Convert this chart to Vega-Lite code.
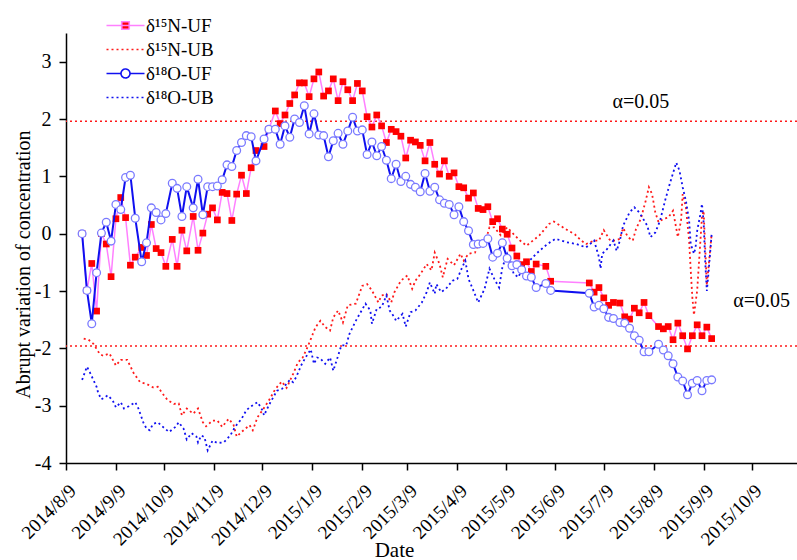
{
"$schema": "https://vega.github.io/schema/vega-lite/v6.json",
"width": 731, "height": 430,
"autosize": {"type": "none"},
"padding": {"left": 66, "top": 33, "right": 0, "bottom": 97},
"background": "white",
"config": {"view": {"stroke": null}, "font": "Liberation Serif"},
"datasets": {
"nuf": [{"date":"2014-08-19","value":0},{"date":"2014-08-22","value":-0.99},{"date":"2014-08-25","value":-0.52},{"date":"2014-08-28","value":-1.35},{"date":"2014-08-31","value":0.0},{"date":"2014-09-03","value":-0.18},{"date":"2014-09-06","value":-0.75},{"date":"2014-09-09","value":0.26},{"date":"2014-09-12","value":0.63},{"date":"2014-09-15","value":0.28},{"date":"2014-09-18","value":-0.55},{"date":"2014-09-21","value":-0.41},{"date":"2014-09-25","value":-0.24},{"date":"2014-09-28","value":-0.38},{"date":"2014-10-01","value":0.16},{"date":"2014-10-04","value":-0.26},{"date":"2014-10-07","value":-0.33},{"date":"2014-10-10","value":-0.57},{"date":"2014-10-14","value":-0.10},{"date":"2014-10-17","value":-0.57},{"date":"2014-10-20","value":0.06},{"date":"2014-10-23","value":-0.30},{"date":"2014-10-27","value":0.30},{"date":"2014-10-30","value":-0.29},{"date":"2014-11-02","value":0.01},{"date":"2014-11-05","value":0.34},{"date":"2014-11-08","value":0.45},{"date":"2014-11-11","value":0.24},{"date":"2014-11-14","value":0.72},{"date":"2014-11-17","value":0.70},{"date":"2014-11-20","value":0.23},{"date":"2014-11-23","value":0.69},{"date":"2014-11-26","value":1.02},{"date":"2014-11-29","value":0.70},{"date":"2014-12-02","value":1.15},{"date":"2014-12-05","value":1.45},{"date":"2014-12-10","value":1.52},{"date":"2014-12-13","value":1.82},{"date":"2014-12-17","value":2.14},{"date":"2014-12-20","value":1.92},{"date":"2014-12-23","value":2.07},{"date":"2014-12-26","value":2.27},{"date":"2014-12-29","value":2.42},{"date":"2015-01-01","value":2.63},{"date":"2015-01-04","value":2.63},{"date":"2015-01-07","value":2.39},{"date":"2015-01-10","value":2.70},{"date":"2015-01-13","value":2.82},{"date":"2015-01-16","value":2.40},{"date":"2015-01-19","value":2.49},{"date":"2015-01-22","value":2.70},{"date":"2015-01-25","value":2.32},{"date":"2015-01-28","value":2.65},{"date":"2015-01-31","value":2.51},{"date":"2015-02-03","value":2.32},{"date":"2015-02-06","value":2.62},{"date":"2015-02-09","value":2.49},{"date":"2015-02-12","value":2.04},{"date":"2015-02-15","value":1.86},{"date":"2015-02-18","value":2.07},{"date":"2015-02-21","value":1.88},{"date":"2015-02-24","value":1.59},{"date":"2015-02-27","value":1.82},{"date":"2015-03-02","value":1.78},{"date":"2015-03-05","value":1.70},{"date":"2015-03-08","value":1.32},{"date":"2015-03-11","value":1.63},{"date":"2015-03-14","value":1.60},{"date":"2015-03-17","value":1.54},{"date":"2015-03-20","value":1.27},{"date":"2015-03-23","value":1.59},{"date":"2015-03-26","value":1.21},{"date":"2015-03-29","value":1.04},{"date":"2015-04-01","value":1.27},{"date":"2015-04-04","value":1.00},{"date":"2015-04-07","value":1.06},{"date":"2015-04-10","value":0.82},{"date":"2015-04-13","value":0.80},{"date":"2015-04-16","value":0.62},{"date":"2015-04-19","value":0.71},{"date":"2015-04-22","value":0.44},{"date":"2015-04-25","value":0.42},{"date":"2015-04-28","value":0.47},{"date":"2015-05-01","value":0.21},{"date":"2015-05-04","value":0.26},{"date":"2015-05-07","value":0.08},{"date":"2015-05-10","value":-0.01},{"date":"2015-05-13","value":-0.25},{"date":"2015-05-16","value":-0.39},{"date":"2015-05-19","value":-0.54},{"date":"2015-05-22","value":-0.49},{"date":"2015-05-25","value":-0.66},{"date":"2015-05-28","value":-0.53},{"date":"2015-06-03","value":-0.57},{"date":"2015-06-06","value":-0.83},{"date":"2015-06-30","value":-0.86},{"date":"2015-07-03","value":-1.02},{"date":"2015-07-06","value":-0.94},{"date":"2015-07-09","value":-1.12},{"date":"2015-07-12","value":-1.25},{"date":"2015-07-15","value":-1.20},{"date":"2015-07-19","value":-1.21},{"date":"2015-07-22","value":-1.45},{"date":"2015-07-25","value":-1.49},{"date":"2015-07-28","value":-1.30},{"date":"2015-07-31","value":-1.38},{"date":"2015-08-03","value":-1.20},{"date":"2015-08-06","value":-1.43},{"date":"2015-08-12","value":-1.62},{"date":"2015-08-15","value":-1.66},{"date":"2015-08-18","value":-1.62},{"date":"2015-08-21","value":-1.85},{"date":"2015-08-24","value":-1.56},{"date":"2015-08-27","value":-1.78},{"date":"2015-08-30","value":-2.01},{"date":"2015-09-02","value":-1.78},{"date":"2015-09-05","value":-1.59},{"date":"2015-09-08","value":-1.78},{"date":"2015-09-11","value":-1.63},{"date":"2015-09-14","value":-1.83}],
"ouf": [{"date":"2014-08-19","value":0},{"date":"2014-08-22","value":-0.99},{"date":"2014-08-25","value":-1.57},{"date":"2014-08-28","value":-0.68},{"date":"2014-08-31","value":0.01},{"date":"2014-09-03","value":0.20},{"date":"2014-09-06","value":-0.13},{"date":"2014-09-09","value":0.51},{"date":"2014-09-12","value":0.42},{"date":"2014-09-15","value":0.98},{"date":"2014-09-18","value":1.02},{"date":"2014-09-21","value":0.27},{"date":"2014-09-25","value":-0.49},{"date":"2014-09-28","value":-0.16},{"date":"2014-10-01","value":0.45},{"date":"2014-10-04","value":0.37},{"date":"2014-10-07","value":0.24},{"date":"2014-10-10","value":0.35},{"date":"2014-10-14","value":0.88},{"date":"2014-10-17","value":0.79},{"date":"2014-10-20","value":0.30},{"date":"2014-10-23","value":0.82},{"date":"2014-10-27","value":0.45},{"date":"2014-10-30","value":0.95},{"date":"2014-11-02","value":0.33},{"date":"2014-11-05","value":0.82},{"date":"2014-11-08","value":0.82},{"date":"2014-11-11","value":0.83},{"date":"2014-11-14","value":0.94},{"date":"2014-11-17","value":1.20},{"date":"2014-11-20","value":1.17},{"date":"2014-11-23","value":1.45},{"date":"2014-11-26","value":1.59},{"date":"2014-11-29","value":1.71},{"date":"2014-12-02","value":1.69},{"date":"2014-12-05","value":1.27},{"date":"2014-12-10","value":1.65},{"date":"2014-12-13","value":1.82},{"date":"2014-12-17","value":1.82},{"date":"2014-12-20","value":1.56},{"date":"2014-12-23","value":1.88},{"date":"2014-12-26","value":1.68},{"date":"2014-12-29","value":2.00},{"date":"2015-01-01","value":1.94},{"date":"2015-01-04","value":2.23},{"date":"2015-01-07","value":1.74},{"date":"2015-01-10","value":2.09},{"date":"2015-01-13","value":1.72},{"date":"2015-01-16","value":1.71},{"date":"2015-01-19","value":1.34},{"date":"2015-01-22","value":1.62},{"date":"2015-01-25","value":1.75},{"date":"2015-01-28","value":1.56},{"date":"2015-01-31","value":1.79},{"date":"2015-02-03","value":2.03},{"date":"2015-02-06","value":1.79},{"date":"2015-02-09","value":1.81},{"date":"2015-02-12","value":1.38},{"date":"2015-02-15","value":1.60},{"date":"2015-02-18","value":1.36},{"date":"2015-02-21","value":1.52},{"date":"2015-02-24","value":1.28},{"date":"2015-02-27","value":0.96},{"date":"2015-03-02","value":1.21},{"date":"2015-03-05","value":0.91},{"date":"2015-03-08","value":1.00},{"date":"2015-03-11","value":0.86},{"date":"2015-03-14","value":0.81},{"date":"2015-03-17","value":0.73},{"date":"2015-03-20","value":1.05},{"date":"2015-03-23","value":0.74},{"date":"2015-03-26","value":0.81},{"date":"2015-03-29","value":0.59},{"date":"2015-04-01","value":0.53},{"date":"2015-04-04","value":0.51},{"date":"2015-04-07","value":0.33},{"date":"2015-04-10","value":0.47},{"date":"2015-04-13","value":0.21},{"date":"2015-04-16","value":0.05},{"date":"2015-04-19","value":-0.19},{"date":"2015-04-22","value":-0.18},{"date":"2015-04-25","value":-0.17},{"date":"2015-04-28","value":-0.09},{"date":"2015-05-01","value":-0.41},{"date":"2015-05-04","value":-0.34},{"date":"2015-05-07","value":-0.16},{"date":"2015-05-10","value":-0.43},{"date":"2015-05-13","value":-0.56},{"date":"2015-05-16","value":-0.54},{"date":"2015-05-19","value":-0.63},{"date":"2015-05-22","value":-0.74},{"date":"2015-05-25","value":-0.76},{"date":"2015-05-28","value":-0.94},{"date":"2015-06-03","value":-0.87},{"date":"2015-06-06","value":-0.99},{"date":"2015-06-30","value":-1.04},{"date":"2015-07-03","value":-1.28},{"date":"2015-07-06","value":-1.25},{"date":"2015-07-09","value":-1.31},{"date":"2015-07-12","value":-1.46},{"date":"2015-07-15","value":-1.48},{"date":"2015-07-19","value":-1.55},{"date":"2015-07-22","value":-1.56},{"date":"2015-07-25","value":-1.65},{"date":"2015-07-28","value":-1.78},{"date":"2015-07-31","value":-1.86},{"date":"2015-08-03","value":-2.06},{"date":"2015-08-06","value":-2.06},{"date":"2015-08-12","value":-1.93},{"date":"2015-08-15","value":-2.03},{"date":"2015-08-18","value":-2.13},{"date":"2015-08-21","value":-2.27},{"date":"2015-08-24","value":-2.50},{"date":"2015-08-27","value":-2.57},{"date":"2015-08-30","value":-2.81},{"date":"2015-09-02","value":-2.61},{"date":"2015-09-05","value":-2.56},{"date":"2015-09-08","value":-2.74},{"date":"2015-09-11","value":-2.56},{"date":"2015-09-14","value":-2.55}],
"nub": [{"date":"2014-08-20","value":-1.83},{"date":"2014-08-23","value":-1.85},{"date":"2014-08-26","value":-1.92},{"date":"2014-08-30","value":-2.10},{"date":"2014-09-01","value":-2.13},{"date":"2014-09-05","value":-2.09},{"date":"2014-09-09","value":-2.30},{"date":"2014-09-12","value":-2.20},{"date":"2014-09-16","value":-2.20},{"date":"2014-09-20","value":-2.43},{"date":"2014-09-24","value":-2.59},{"date":"2014-09-28","value":-2.62},{"date":"2014-10-02","value":-2.68},{"date":"2014-10-05","value":-2.67},{"date":"2014-10-08","value":-2.79},{"date":"2014-10-11","value":-2.90},{"date":"2014-10-15","value":-2.97},{"date":"2014-10-18","value":-2.96},{"date":"2014-10-20","value":-3.17},{"date":"2014-10-23","value":-3.05},{"date":"2014-10-27","value":-3.14},{"date":"2014-10-30","value":-3.05},{"date":"2014-11-02","value":-3.29},{"date":"2014-11-04","value":-3.36},{"date":"2014-11-08","value":-3.26},{"date":"2014-11-11","value":-3.26},{"date":"2014-11-14","value":-3.37},{"date":"2014-11-18","value":-3.23},{"date":"2014-11-21","value":-3.33},{"date":"2014-11-23","value":-3.54},{"date":"2014-11-26","value":-3.46},{"date":"2014-12-01","value":-3.34},{"date":"2014-12-03","value":-3.43},{"date":"2014-12-06","value":-3.20},{"date":"2014-12-09","value":-3.08},{"date":"2014-12-13","value":-2.91},{"date":"2014-12-17","value":-2.71},{"date":"2014-12-21","value":-2.58},{"date":"2014-12-24","value":-2.69},{"date":"2014-12-28","value":-2.45},{"date":"2014-12-31","value":-2.25},{"date":"2015-01-03","value":-2.16},{"date":"2015-01-06","value":-1.98},{"date":"2015-01-08","value":-1.84},{"date":"2015-01-11","value":-1.63},{"date":"2015-01-14","value":-1.52},{"date":"2015-01-17","value":-1.63},{"date":"2015-01-20","value":-1.69},{"date":"2015-01-22","value":-1.46},{"date":"2015-01-25","value":-1.34},{"date":"2015-01-28","value":-1.55},{"date":"2015-01-31","value":-1.25},{"date":"2015-02-05","value":-1.22},{"date":"2015-02-09","value":-0.91},{"date":"2015-02-12","value":-0.88},{"date":"2015-02-15","value":-0.99},{"date":"2015-02-19","value":-1.20},{"date":"2015-02-21","value":-1.08},{"date":"2015-02-24","value":-1.05},{"date":"2015-02-27","value":-1.20},{"date":"2015-03-01","value":-1.02},{"date":"2015-03-05","value":-0.82},{"date":"2015-03-09","value":-0.73},{"date":"2015-03-12","value":-0.96},{"date":"2015-03-14","value":-0.82},{"date":"2015-03-17","value":-0.71},{"date":"2015-03-21","value":-0.53},{"date":"2015-03-24","value":-0.64},{"date":"2015-03-26","value":-0.33},{"date":"2015-03-29","value":-0.53},{"date":"2015-03-31","value":-0.76},{"date":"2015-04-03","value":-0.44},{"date":"2015-04-07","value":-0.55},{"date":"2015-04-11","value":-0.35},{"date":"2015-04-13","value":-0.47},{"date":"2015-04-16","value":-0.35},{"date":"2015-04-20","value":-0.33},{"date":"2015-04-23","value":-0.12},{"date":"2015-04-26","value":-0.18},{"date":"2015-04-29","value":0.11},{"date":"2015-05-02","value":0.11},{"date":"2015-05-06","value":-0.03},{"date":"2015-05-10","value":0.11},{"date":"2015-05-14","value":-0.01},{"date":"2015-05-18","value":-0.12},{"date":"2015-05-22","value":-0.21},{"date":"2015-05-26","value":-0.12},{"date":"2015-05-30","value":-0.03},{"date":"2015-06-05","value":0.17},{"date":"2015-06-08","value":0.21},{"date":"2015-06-12","value":0.14},{"date":"2015-06-17","value":0.05},{"date":"2015-06-21","value":-0.01},{"date":"2015-06-25","value":-0.12},{"date":"2015-06-28","value":-0.18},{"date":"2015-07-03","value":-0.12},{"date":"2015-07-06","value":-0.12},{"date":"2015-07-09","value":0.06},{"date":"2015-07-13","value":-0.12},{"date":"2015-07-16","value":-0.12},{"date":"2015-07-19","value":-0.09},{"date":"2015-07-21","value":0.10},{"date":"2015-07-24","value":-0.06},{"date":"2015-07-27","value":-0.12},{"date":"2015-07-29","value":0.08},{"date":"2015-08-01","value":0.26},{"date":"2015-08-04","value":0.57},{"date":"2015-08-06","value":0.81},{"date":"2015-08-08","value":0.69},{"date":"2015-08-10","value":0.37},{"date":"2015-08-12","value":0.20},{"date":"2015-08-15","value":0.26},{"date":"2015-08-18","value":0.28},{"date":"2015-08-21","value":0.40},{"date":"2015-08-24","value":-0.06},{"date":"2015-08-26","value":0.23},{"date":"2015-08-27","value":0.69},{"date":"2015-08-29","value":0.46},{"date":"2015-08-31","value":-0.12},{"date":"2015-09-01","value":-0.64},{"date":"2015-09-02","value":-1.11},{"date":"2015-09-03","value":-1.42},{"date":"2015-09-05","value":-0.99},{"date":"2015-09-08","value":0.30},{"date":"2015-09-09","value":0.40},{"date":"2015-09-11","value":-0.90},{"date":"2015-09-12","value":-0.60},{"date":"2015-09-14","value":0}],
"oub": [{"date":"2014-08-19","value":-2.55},{"date":"2014-08-22","value":-2.32},{"date":"2014-08-24","value":-2.43},{"date":"2014-08-26","value":-2.55},{"date":"2014-08-28","value":-2.67},{"date":"2014-08-29","value":-2.78},{"date":"2014-08-31","value":-2.89},{"date":"2014-09-04","value":-2.82},{"date":"2014-09-07","value":-2.91},{"date":"2014-09-09","value":-3.03},{"date":"2014-09-12","value":-2.94},{"date":"2014-09-14","value":-3.05},{"date":"2014-09-17","value":-3.01},{"date":"2014-09-21","value":-2.94},{"date":"2014-09-23","value":-3.05},{"date":"2014-09-26","value":-3.29},{"date":"2014-09-28","value":-3.40},{"date":"2014-09-30","value":-3.43},{"date":"2014-10-02","value":-3.32},{"date":"2014-10-05","value":-3.29},{"date":"2014-10-09","value":-3.39},{"date":"2014-10-12","value":-3.46},{"date":"2014-10-16","value":-3.37},{"date":"2014-10-18","value":-3.29},{"date":"2014-10-21","value":-3.40},{"date":"2014-10-23","value":-3.59},{"date":"2014-10-26","value":-3.48},{"date":"2014-10-29","value":-3.54},{"date":"2014-10-30","value":-3.64},{"date":"2014-11-01","value":-3.52},{"date":"2014-11-03","value":-3.55},{"date":"2014-11-05","value":-3.78},{"date":"2014-11-08","value":-3.61},{"date":"2014-11-11","value":-3.65},{"date":"2014-11-15","value":-3.64},{"date":"2014-11-19","value":-3.52},{"date":"2014-11-22","value":-3.37},{"date":"2014-11-26","value":-3.23},{"date":"2014-11-29","value":-3.08},{"date":"2014-12-02","value":-3.01},{"date":"2014-12-06","value":-2.94},{"date":"2014-12-09","value":-3.08},{"date":"2014-12-10","value":-3.17},{"date":"2014-12-12","value":-3.05},{"date":"2014-12-14","value":-2.94},{"date":"2014-12-18","value":-2.74},{"date":"2014-12-21","value":-2.71},{"date":"2014-12-24","value":-2.62},{"date":"2014-12-26","value":-2.55},{"date":"2014-12-28","value":-2.59},{"date":"2014-12-30","value":-2.50},{"date":"2015-01-02","value":-2.30},{"date":"2015-01-05","value":-2.15},{"date":"2015-01-08","value":-2.02},{"date":"2015-01-10","value":-2.27},{"date":"2015-01-12","value":-2.16},{"date":"2015-01-14","value":-2.18},{"date":"2015-01-17","value":-2.27},{"date":"2015-01-20","value":-2.16},{"date":"2015-01-22","value":-2.39},{"date":"2015-01-25","value":-2.13},{"date":"2015-01-27","value":-1.95},{"date":"2015-01-30","value":-1.95},{"date":"2015-02-01","value":-1.75},{"date":"2015-02-05","value":-1.52},{"date":"2015-02-08","value":-1.37},{"date":"2015-02-11","value":-1.22},{"date":"2015-02-14","value":-1.34},{"date":"2015-02-15","value":-1.57},{"date":"2015-02-18","value":-1.31},{"date":"2015-02-21","value":-1.28},{"date":"2015-02-24","value":-1.08},{"date":"2015-02-26","value":-1.34},{"date":"2015-03-01","value":-1.46},{"date":"2015-03-02","value":-1.52},{"date":"2015-03-06","value":-1.40},{"date":"2015-03-08","value":-1.62},{"date":"2015-03-11","value":-1.37},{"date":"2015-03-14","value":-1.34},{"date":"2015-03-18","value":-1.20},{"date":"2015-03-21","value":-1.02},{"date":"2015-03-23","value":-0.85},{"date":"2015-03-26","value":-1.05},{"date":"2015-03-27","value":-0.88},{"date":"2015-03-30","value":-1.02},{"date":"2015-04-02","value":-0.96},{"date":"2015-04-06","value":-0.82},{"date":"2015-04-09","value":-0.79},{"date":"2015-04-12","value":-0.59},{"date":"2015-04-14","value":-0.47},{"date":"2015-04-16","value":-0.79},{"date":"2015-04-19","value":-0.99},{"date":"2015-04-22","value":-1.20},{"date":"2015-04-26","value":-0.96},{"date":"2015-04-29","value":-0.61},{"date":"2015-05-02","value":-0.79},{"date":"2015-05-05","value":-0.94},{"date":"2015-05-07","value":-0.59},{"date":"2015-05-10","value":-0.35},{"date":"2015-05-12","value":-0.47},{"date":"2015-05-14","value":-0.70},{"date":"2015-05-17","value":-0.76},{"date":"2015-05-20","value":-0.56},{"date":"2015-05-24","value":-0.47},{"date":"2015-05-28","value":-0.35},{"date":"2015-06-04","value":-0.18},{"date":"2015-06-09","value":-0.09},{"date":"2015-06-16","value":-0.15},{"date":"2015-06-22","value":-0.18},{"date":"2015-06-28","value":-0.24},{"date":"2015-07-03","value":-0.12},{"date":"2015-07-06","value":-0.41},{"date":"2015-07-07","value":-0.61},{"date":"2015-07-08","value":-0.35},{"date":"2015-07-11","value":-0.27},{"date":"2015-07-15","value":-0.12},{"date":"2015-07-17","value":-0.30},{"date":"2015-07-19","value":-0.12},{"date":"2015-07-21","value":0.14},{"date":"2015-07-25","value":0.37},{"date":"2015-07-28","value":0.46},{"date":"2015-07-31","value":0.37},{"date":"2015-08-02","value":0.28},{"date":"2015-08-05","value":0.14},{"date":"2015-08-07","value":-0.06},{"date":"2015-08-10","value":0.02},{"date":"2015-08-13","value":0.23},{"date":"2015-08-16","value":0.57},{"date":"2015-08-19","value":0.87},{"date":"2015-08-23","value":1.24},{"date":"2015-08-25","value":1.10},{"date":"2015-08-27","value":0.81},{"date":"2015-08-29","value":0.57},{"date":"2015-08-31","value":0.23},{"date":"2015-09-01","value":-0.18},{"date":"2015-09-03","value":-0.35},{"date":"2015-09-04","value":-0.24},{"date":"2015-09-05","value":0.05},{"date":"2015-09-07","value":0.34},{"date":"2015-09-08","value":0.52},{"date":"2015-09-09","value":0.20},{"date":"2015-09-10","value":-0.50},{"date":"2015-09-11","value":-1.00},{"date":"2015-09-12","value":-0.70},{"date":"2015-09-14","value":0}],
"ref": [{"value":1.96},{"value":-1.96}],
"notes": [{"date":"2015-08-01","value":2.30,"text":"α=0.05"},{"date":"2015-10-15","value":-1.17,"text":"α=0.05"}]
},
"layer": [
{"data": {"name": "nub"},
 "mark": {"type": "line", "strokeDash": [2, 3], "strokeWidth": 1.8},
 "encoding": {
  "x": {"field": "date", "type": "temporal",
   "scale": {"type": "utc", "domain": [{"year": 2014, "month": 8, "date": 9, "utc": true}, {"year": 2015, "month": 11, "date": 6, "utc": true}]},
   "axis": {"title": "Date", "titleFontSize": 21, "titleFontWeight": "normal", "titleFont": "Liberation Serif", "titleColor": "black",
    "titleX": 328, "titleY": 93, "titleAlign": "center", "titleBaseline": "alphabetic",
    "values": [{"year":2014,"month":8,"date":9,"utc":true},{"year":2014,"month":9,"date":9,"utc":true},{"year":2014,"month":10,"date":9,"utc":true},{"year":2014,"month":11,"date":9,"utc":true},{"year":2014,"month":12,"date":9,"utc":true},{"year":2015,"month":1,"date":9,"utc":true},{"year":2015,"month":2,"date":9,"utc":true},{"year":2015,"month":3,"date":9,"utc":true},{"year":2015,"month":4,"date":9,"utc":true},{"year":2015,"month":5,"date":9,"utc":true},{"year":2015,"month":6,"date":9,"utc":true},{"year":2015,"month":7,"date":9,"utc":true},{"year":2015,"month":8,"date":9,"utc":true},{"year":2015,"month":9,"date":9,"utc":true},{"year":2015,"month":10,"date":9,"utc":true}],
    "format": "%Y/%-m/%-d", "labelAngle": -45, "labelFontSize": 19, "labelFont": "Liberation Serif", "labelColor": "black",
    "labelPadding": 11, "labelOverlap": false, "labelFlush": false,
    "tickSize": 7, "tickWidth": 1.5, "tickColor": "black", "domainColor": "black", "domainWidth": 1.5, "grid": false}},
  "y": {"field": "value", "type": "quantitative",
   "scale": {"domain": [-4, 3.5], "nice": false, "zero": false},
   "axis": {"title": "Abrupt variation of concentration", "titleFontSize": 20, "titleFontWeight": "normal", "titleFont": "Liberation Serif", "titleColor": "black",
    "titleX": -43, "titleY": 231, "titleAngle": -90, "titleAlign": "center", "titleBaseline": "middle",
    "values": [-4, -3.5, -3, -2.5, -2, -1.5, -1, -0.5, 0, 0.5, 1, 1.5, 2, 2.5, 3],
    "labelExpr": "datum.value % 1 === 0 ? '' + datum.value : ''",
    "labelFontSize": 20, "labelFont": "Liberation Serif", "labelColor": "black", "labelPadding": 8, "labelBaseline": "middle",
    "tickSize": {"condition": {"test": "datum.value % 1 !== 0", "value": 4}, "value": 7},
    "tickWidth": 1.5, "tickColor": "black", "domainColor": "black", "domainWidth": 1.5, "grid": false}},
  "color": {"datum": "δ¹⁵N-UB",
   "scale": {"domain": ["δ¹⁵N-UF", "δ¹⁵N-UB", "δ¹⁸O-UF", "δ¹⁸O-UB"], "range": ["#ff80ff", "#ff1a1a", "#1010f0", "#1010f0"]},
   "legend": {"title": null, "orient": "none", "legendX": 50, "legendY": -17, "padding": 0,
    "symbolSize": 100, "symbolStrokeWidth": 1.5, "labelOffset": 11, "rowPadding": 4,
    "labelFont": "Liberation Serif", "labelFontSize": 19, "labelColor": "black",
    "encode": {"symbols": {"update": {
     "shape": {"signal": "datum.value === 'δ¹⁵N-UF' ? 'M-3.8,0H3.8M-0.75,-0.75H0.75V0.75H-0.75Z' : datum.value === 'δ¹⁸O-UF' ? 'M-3.8,0H-0.9M0.9,0H3.8M0.9,0A0.9,0.9,0,1,1,-0.9,0A0.9,0.9,0,1,1,0.9,0' : 'M-3.8,0H3.8'"},
     "fill": {"signal": "datum.value === 'δ¹⁵N-UF' ? '#ff0000' : datum.value === 'δ¹⁸O-UF' ? '#ffffff' : 'transparent'"},
     "stroke": {"signal": "datum.value === 'δ¹⁵N-UF' ? '#ff80ff' : datum.value === 'δ¹⁵N-UB' ? '#ff1a1a' : '#1010f0'"},
     "strokeDash": {"signal": "indexof(datum.value, 'UB') >= 0 ? [2, 3] : [1, 0]"},
     "strokeWidth": {"value": 1.6},
     "opacity": {"value": 1}
    }}}}}
 }},
{"data": {"name": "oub"},
 "mark": {"type": "line", "strokeDash": [2, 3], "strokeWidth": 1.8},
 "encoding": {"x": {"field": "date", "type": "temporal"}, "y": {"field": "value", "type": "quantitative"}, "color": {"datum": "δ¹⁸O-UB"}}},
{"data": {"name": "ref"},
 "mark": {"type": "rule", "color": "#ff1a1a", "strokeDash": [2, 3], "strokeWidth": 1.6},
 "encoding": {"y": {"field": "value", "type": "quantitative"}}},
{"data": {"name": "nuf"},
 "mark": {"type": "line", "strokeWidth": 1.5},
 "encoding": {"x": {"field": "date", "type": "temporal"}, "y": {"field": "value", "type": "quantitative"}, "color": {"datum": "δ¹⁵N-UF"}}},
{"data": {"name": "nuf"},
 "mark": {"type": "point", "shape": "square", "filled": true, "color": "#ff0000", "size": 45, "opacity": 1},
 "encoding": {"x": {"field": "date", "type": "temporal"}, "y": {"field": "value", "type": "quantitative"}}},
{"data": {"name": "ouf"},
 "mark": {"type": "line", "strokeWidth": 2},
 "encoding": {"x": {"field": "date", "type": "temporal"}, "y": {"field": "value", "type": "quantitative"}, "color": {"datum": "δ¹⁸O-UF"}}},
{"data": {"name": "ouf"},
 "mark": {"type": "point", "shape": "circle", "filled": false, "fill": "white", "fillOpacity": 1, "stroke": "#7a7aff", "strokeWidth": 1.3, "size": 60, "opacity": 1},
 "encoding": {"x": {"field": "date", "type": "temporal"}, "y": {"field": "value", "type": "quantitative"}}},
{"data": {"name": "notes"},
 "mark": {"type": "text", "font": "Liberation Serif", "fontSize": 20, "color": "black", "align": "center", "baseline": "middle"},
 "encoding": {"x": {"field": "date", "type": "temporal"}, "y": {"field": "value", "type": "quantitative"}, "text": {"field": "text"}}}
]
}
